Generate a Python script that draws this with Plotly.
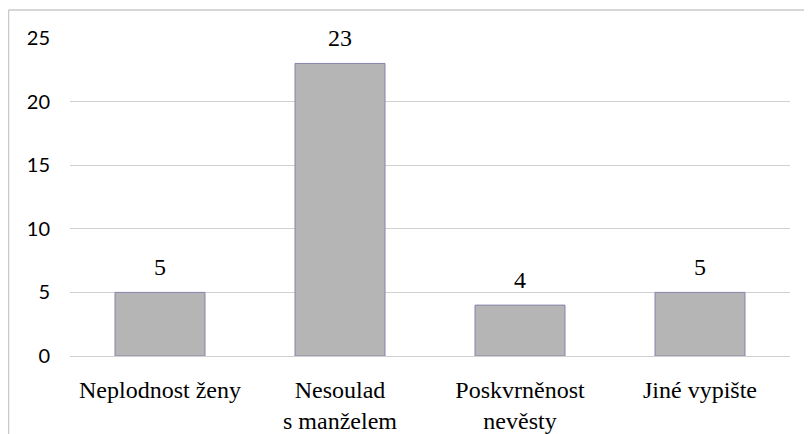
import plotly.graph_objects as go

categories = ["Neplodnost ženy", "Nesoulad<br>s manželem", "Poskvrněnost<br>nevěsty", "Jiné vypište"]
values = [5, 23, 4, 5]
y_ticks = [0, 5, 10, 15, 20, 25]

# page has an 8px body margin, so the figure origin sits at screen (8, 8)
W, H = 804, 426
L, R, T, B = 62, 22, 30, 78
pw, ph = W - L - R, H - T - B

def px_x(p):
    return (p - L) / pw

def px_y(p):
    return (H - B - p) / ph

SERIF = "Liberation Serif"

fig = go.Figure()
fig.add_trace(go.Bar(
    x=categories, y=values, width=0.5,
    marker=dict(color="#b5b5b5", line=dict(color="#8484a8", width=1)),
    hoverinfo="skip",
))

for c, v in zip(categories, values):
    fig.add_annotation(x=c, y=v, text=str(v), showarrow=False, yanchor="bottom",
                       yshift=10, font=dict(family=SERIF, size=24, color="#000"))

fig.add_shape(type="line", xref="paper", yref="paper", x0=px_x(0.5), x1=px_x(830), y0=px_y(2), y1=px_y(2),
              line=dict(color="#c8c8c8", width=1.5))
fig.add_shape(type="line", xref="paper", yref="paper", x0=px_x(0.5), x1=px_x(0.5), y0=px_y(2), y1=px_y(450),
              line=dict(color="#c8c8c8", width=1.5))

fig.update_layout(
    width=W, height=H, margin=dict(l=L, r=R, t=T, b=B, autoexpand=False),
    paper_bgcolor="white", plot_bgcolor="white", showlegend=False,
    xaxis=dict(showgrid=False, showline=True, linecolor="#d0d0d0", linewidth=1, automargin=False,
               ticks="", tickfont=dict(family=SERIF, size=24, color="#000"),
               ticklabelstandoff=12),
    yaxis=dict(range=[0, 25], tickvals=y_ticks, showgrid=True, gridcolor="#d0d0d0", gridwidth=1,
               zeroline=False, showline=False, ticks="", automargin=False,
               tickfont=dict(family="Lato", size=20, color="#000"), ticklabelstandoff=19),
)

fig.write_html("out.html")
